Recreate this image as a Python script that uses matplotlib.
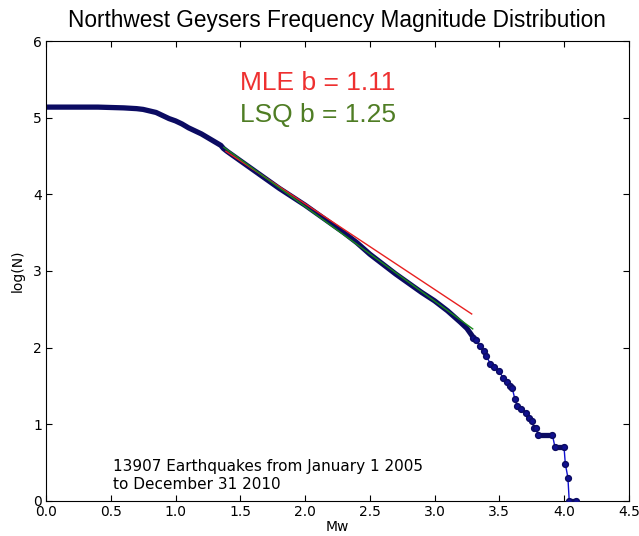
import matplotlib
matplotlib.use("Agg")
import matplotlib.pyplot as plt

# cumulative log(N), dense part of the curve
mag_main = [0.00, 0.10, 0.20, 0.30, 0.40, 0.50, 0.60, 0.70, 0.75, 0.80,
            0.85, 0.90, 0.95, 1.00, 1.05, 1.10, 1.15, 1.20, 1.25, 1.30,
            1.35, 1.37, 1.40, 1.50, 1.60, 1.70, 1.80, 1.90, 2.00, 2.10,
            2.20, 2.30, 2.40, 2.50, 2.60, 2.70, 2.80, 2.90, 3.00, 3.10,
            3.20, 3.25, 3.30]
logn_main = [5.14, 5.14, 5.14, 5.14, 5.14, 5.135, 5.13, 5.12, 5.11, 5.09,
             5.07, 5.03, 4.99, 4.96, 4.92, 4.87, 4.83, 4.79, 4.74, 4.69,
             4.64, 4.60, 4.56, 4.44, 4.32, 4.20, 4.08, 3.97, 3.86, 3.74,
             3.62, 3.50, 3.37, 3.22, 3.09, 2.96, 2.84, 2.72, 2.61, 2.48,
             2.33, 2.25, 2.13]

# sparse tail (largest events)
mag_tail = [3.30, 3.32, 3.35, 3.38, 3.40, 3.43, 3.46, 3.50, 3.53, 3.56,
            3.58, 3.60, 3.62, 3.64, 3.67, 3.71, 3.73, 3.75, 3.77, 3.78,
            3.80, 3.91, 3.93, 4.00, 4.01, 4.03, 4.04, 4.09]
logn_tail = [2.13, 2.10, 2.02, 1.95, 1.89, 1.79, 1.75, 1.69, 1.60, 1.55,
             1.50, 1.47, 1.33, 1.23, 1.20, 1.15, 1.08, 1.04, 0.95, 0.95,
             0.86, 0.86, 0.70, 0.70, 0.48, 0.30, 0.00, 0.00]

# fitted lines (end points)
mle_x = [1.389, 3.287]
mle_y = [4.563, 2.438]
lsq_x = [1.373, 3.295]
lsq_y = [4.615, 2.243]

mle_b = 1.11
lsq_b = 1.25

NAVY = "#0b0b62"

fig = plt.figure(figsize=(6.39, 5.36), dpi=100)
ax = fig.add_axes([0.072, 0.066, 0.912, 0.857])

# dense part: overlapping dots look like a thick line
ax.plot(mag_main, logn_main, color=NAVY, linewidth=3.8,
        solid_capstyle="round", solid_joinstyle="round", zorder=2)

# tail: thin line with dots, flats drawn thick
ax.plot(mag_tail, logn_tail, color="#1010d0", linewidth=1.0, zorder=2)
for i in range(len(mag_tail) - 1):
    if logn_tail[i] == logn_tail[i + 1]:
        ax.plot(mag_tail[i:i + 2], logn_tail[i:i + 2], color=NAVY,
                linewidth=3.8, solid_capstyle="round", zorder=2)
ax.plot(mag_tail, logn_tail, linestyle="none", marker="o", markersize=4.2,
        markerfacecolor="#101090", markeredgecolor=NAVY, zorder=3)

ax.plot(mle_x, mle_y, color="#e82020", linewidth=1.0, zorder=4)
ax.plot(lsq_x, lsq_y, color="#1a8a1a", linewidth=1.0, zorder=4)

ax.text(1.50, 5.36, f"MLE b = {mle_b:.2f}", color="#ee3030",
        fontsize=19, family="Liberation Sans", va="baseline")
ax.text(1.50, 4.95, f"LSQ b = {lsq_b:.2f}", color="#4f7d24",
        fontsize=19, family="Liberation Sans", va="baseline")

ax.text(0.52, 0.11, "13907 Earthquakes from January 1 2005\nto December 31 2010",
        fontsize=11, va="bottom", ha="left", linespacing=1.25)

ax.set_xlim(0, 4.5)
ax.set_ylim(0, 6)
ax.set_xticks([0.0, 0.5, 1.0, 1.5, 2.0, 2.5, 3.0, 3.5, 4.0, 4.5])
ax.set_yticks([0, 1, 2, 3, 4, 5, 6])
ax.tick_params(direction="in", top=True, right=True, length=4,
               labelsize=10, pad=3)
ax.set_xlabel("Mw", fontsize=10, labelpad=1)
ax.set_ylabel("log(N)", fontsize=10, labelpad=6)
ax.set_title("Northwest Geysers Frequency Magnitude Distribution",
             fontsize=16.3, family="Liberation Sans", pad=10)

fig.savefig("out.png", dpi=100)
